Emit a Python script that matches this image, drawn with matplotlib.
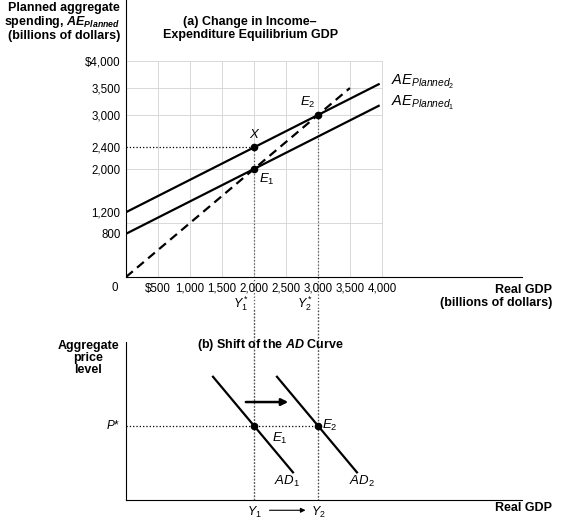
import numpy as np
import matplotlib
matplotlib.use("Agg")
import matplotlib.pyplot as plt

plt.rcParams.update({"font.family": ["Liberation Sans", "DejaVu Sans"], "font.size": 8,
                     "mathtext.fontset": "custom", "mathtext.it": "Liberation Sans:italic",
                     "mathtext.rm": "Liberation Sans", "mathtext.bf": "Liberation Sans:bold",
                     "mathtext.bfit": "Liberation Sans:bold:italic"})

# ── data ──────────────────────────────────────────────────────────────
X_TICKS = [500, 1000, 1500, 2000, 2500, 3000, 3500, 4000]
X_LABELS = ["$500", "1,000", "1,500", "2,000", "2,500", "3,000", "3,500", "4,000"]
Y_TICKS = [800, 1200, 2000, 2400, 3000, 3500, 4000]
Y_LABELS = ["800", "1,200", "2,000", "2,400", "3,000", "3,500", "$4,000"]
GRID_Y = [1000, 2000, 3000, 3500, 4000]
AE1_X = [0, 3950]; AE1_Y = [800, 800 + 0.6 * 3950]
AE2_X = [0, 3950]; AE2_Y = [1200, 1200 + 0.6 * 3950]
DIAG_X = [0, 3500]; DIAG_Y = [0, 3500]
Y1, Y2 = 2000, 3000
X_PT = (2000, 2400); E1_PT = (2000, 2000); E2_PT = (3000, 3000)
AD1_X = [1360, 2610]; AD1_Y = [0.78, 0.175]
AD2_X = [2360, 3610]; AD2_Y = [0.78, 0.175]
P_STAR = 0.47

fig = plt.figure(figsize=(5.61, 5.2), dpi=100)
W = 396 / 561
ax = fig.add_axes([126 / 561, 243 / 520, W, 277 / 520])
bx = fig.add_axes([126 / 561, 20 / 520, W, 158 / 520])
XMAX = 6190

for a in (ax, bx):
    a.set_xlim(0, XMAX)
    a.spines["top"].set_visible(False)
    a.spines["right"].set_visible(False)
    a.patch.set_alpha(0)

# ── panel (a) ─────────────────────────────────────────────────────────
ax.set_ylim(0, 5130)
for g in GRID_Y:
    ax.plot([0, 4000], [g, g], color="#d8d8d8", lw=0.7, zorder=0)
for g in X_TICKS:
    ax.plot([g, g], [0, 4000], color="#d8d8d8", lw=0.7, zorder=0)
ax.plot(AE1_X, AE1_Y, color="black", lw=1.6)
ax.plot(AE2_X, AE2_Y, color="black", lw=1.6)
ax.plot(DIAG_X, DIAG_Y, color="black", lw=1.6, ls=(0, (4, 2.5)))
ax.plot([0, X_PT[0]], [X_PT[1], X_PT[1]], color="black", lw=0.9, ls=":")
for xv, yv in [(Y1, 2400), (Y2, 3000)]:
    ax.plot([xv, xv], [yv, -4130], color="#555", lw=0.9, ls=":", clip_on=False, zorder=1)
for p in (X_PT, E1_PT, E2_PT):
    ax.plot(*p, "o", color="black", ms=4.5, zorder=5)
ax.set_xticks(X_TICKS)
ax.set_xticklabels(X_LABELS, fontsize=8.3)
ax.set_yticks(Y_TICKS)
ax.set_yticklabels(Y_LABELS, fontsize=8.3)
ax.tick_params(length=0, pad=4)
ax.text(-130, -100, "0", ha="right", va="top", fontsize=8.3)
ax.text(X_PT[0], X_PT[1] + 120, "X", ha="center", va="bottom", fontsize=9.5, style="italic")
ax.text(E2_PT[0] - 160, E2_PT[1] + 100, r"$E_2$", ha="center", va="bottom", fontsize=9.5)
ax.text(E1_PT[0] + 80, E1_PT[1] - 60, r"$E_1$", ha="left", va="top", fontsize=9.5)
ax.text(4150, 3620, r"$AE_{Planned_2}$", ha="left", va="center", fontsize=10.5)
ax.text(4150, 3220, r"$AE_{Planned_1}$", ha="left", va="center", fontsize=10.5)
ax.text(Y1 - 200, -320, r"$Y_1^*$", ha="center", va="top", fontsize=9)
ax.text(Y2 - 200, -320, r"$Y_2^*$", ha="center", va="top", fontsize=9)
ax.text(1940, 4830, "(a) Change in Income–\nExpenditure Equilibrium GDP",
        ha="center", va="top", fontsize=9, fontweight="bold", linespacing=1.05)

fig.text(120 / 561, 1 - 2 / 520,
         "Planned aggregate\n" + r"spending, $\mathbfit{AE}_{\mathbfit{Planned}}$" + "\n(billions of dollars)",
         ha="right", va="top", fontsize=9, fontweight="bold", linespacing=1.0)
fig.text(552 / 561, 1 - 284 / 520, "Real GDP\n(billions of dollars)",
         ha="right", va="top", fontsize=9, fontweight="bold", linespacing=1.1, multialignment="right")

# ── panel (b) ─────────────────────────────────────────────────────────
bx.set_ylim(0, 1)
bx.set_xticks([]); bx.set_yticks([])
bx.plot(AD1_X, AD1_Y, color="black", lw=1.6)
bx.plot(AD2_X, AD2_Y, color="black", lw=1.6)
bx.plot([0, Y2], [P_STAR, P_STAR], color="black", lw=0.9, ls=":")
for xv in (Y1, Y2):
    bx.plot([xv, xv], [0, 1.2], color="#555", lw=0.9, ls=":", clip_on=False)
    bx.plot(xv, P_STAR, "o", color="black", ms=4.5, zorder=5)
bx.annotate("", xy=(2580, 0.62), xytext=(1830, 0.62),
            arrowprops=dict(arrowstyle="-|>", color="black", lw=1.8, mutation_scale=10))
bx.text(Y1 + 280, P_STAR - 0.03, r"$E_1$", ha="left", va="top", fontsize=9.5)
bx.text(Y2 + 60, P_STAR, r"$E_2$", ha="left", va="center", fontsize=9.5)
bx.text(AD1_X[1] - 300, 0.12, r"$AD_1$", ha="left", va="center", fontsize=9.5)
bx.text(AD2_X[1] - 120, 0.12, r"$AD_2$", ha="left", va="center", fontsize=9.5)
bx.text(-90, P_STAR, r"$P$*", ha="right", va="center", fontsize=8.5)
bx.text(Y1, -0.03, r"$Y_1$", ha="center", va="top", fontsize=9)
bx.text(Y2, -0.03, r"$Y_2$", ha="center", va="top", fontsize=9)
bx.annotate("", xy=(Y2 - 150, -0.065), xytext=(Y1 + 200, -0.065),
            arrowprops=dict(arrowstyle="-|>", color="black", lw=0.8, mutation_scale=7),
            annotation_clip=False)
bx.text(2250, 0.98, r"(b) Shift of the $\mathbfit{AD}$ Curve", ha="center", va="center",
        fontsize=9, fontweight="bold")
fig.text(88 / 561, 1 - 340 / 520, "Aggregate\nprice\nlevel", ha="center", va="top",
         fontsize=9, fontweight="bold", linespacing=1.0)
fig.text(552 / 561, 1 - 508 / 520, "Real GDP", ha="right", va="center", fontsize=9, fontweight="bold")

fig.savefig("out.png", dpi=100)
